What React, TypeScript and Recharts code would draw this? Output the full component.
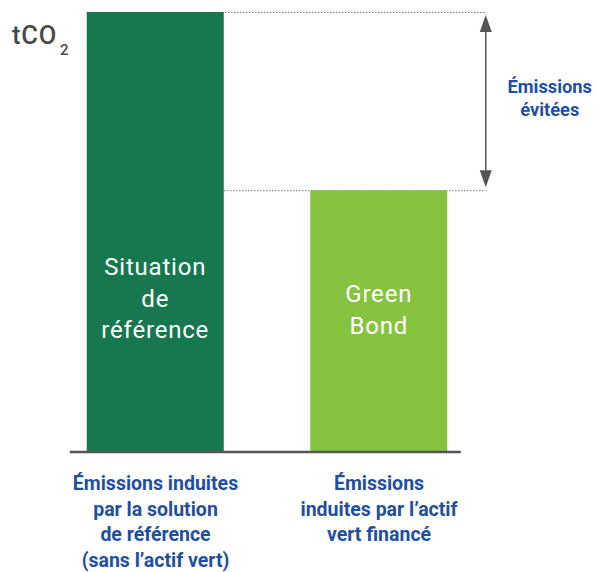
import React from "react";
import { Bar, BarChart, Cell, LabelList, ReferenceArea, ReferenceLine, XAxis, YAxis } from "recharts";

const categories = ["reference", "greenBond"];
const emissions = [100, 59.5];
const barLabels = [["Situation", "de", "référence"], ["Green", "Bond"]];
const categoryLabels = [
  ["Émissions induites", "par la solution", "de référence", "(sans l’actif vert)"],
  ["Émissions", "induites par l’actif", "vert financé"],
];
const avoidedLabel = ["Émissions", "évitées"];
const unitLabel = "tCO";
const unitSub = "2";

const data = categories.map((c, i) => ({ cat: c, value: emissions[i] }));

const DARK = "#17784F";
const LIGHT = "#86C440";
const BLUE = "#1F4F9E";
const GREY = "#555555";
const FONT = "Roboto, sans-serif";
const BAR_W = 137;

const CategoryTick = (props: any) => {
  const { x, y, payload } = props;
  const lines = categoryLabels[payload.index] || [];
  return (
    <g>
      {lines.map((t, i) => (
        <text key={i} x={x} y={y + 30 + i * 25.5} textAnchor="middle" fill={BLUE}
          fontFamily={FONT} fontWeight={700} fontSize={19.5}>
          {t}
        </text>
      ))}
    </g>
  );
};

const BarText = (props: any) => {
  const { x, y, width, height, index } = props;
  const lines = barLabels[index] || [];
  const offsets = [153.5, 142];
  const cy = y + height - offsets[index];
  const start = cy - ((lines.length - 1) * 31.5) / 2;
  return (
    <g>
      {lines.map((t, i) => (
        <text key={i} x={x + width / 2} y={start + i * 31.5 + 8} textAnchor="middle" fill="#fff"
          fontFamily={FONT} fontSize={24} letterSpacing={0.8}>
          {t}
        </text>
      ))}
    </g>
  );
};

const AvoidedShape = (props: any) => {
  const { x, y, width, height } = props;
  const right = x + width - 5;
  const startX = x + width / 4 + BAR_W / 2;
  const bottom = y + height;
  return (
    <g>
      <line x1={startX - BAR_W} x2={right} y1={y + 0.5} y2={y + 0.5} stroke="#777" strokeDasharray="1.5 1.5" />
      <line x1={startX} x2={right} y1={bottom + 0.5} y2={bottom + 0.5} stroke="#777" strokeDasharray="1.5 1.5" />
      <line x1={right} x2={right} y1={y + 10} y2={bottom - 10} stroke={GREY} strokeWidth={1.5} />
      <polygon points={`${right},${y + 3} ${right - 6},${y + 20} ${right + 6},${y + 20}`} fill={GREY} />
      <polygon points={`${right},${bottom - 3} ${right - 6},${bottom - 20} ${right + 6},${bottom - 20}`} fill={GREY} />
      {avoidedLabel.map((t, i) => (
        <text key={i} x={right + 64} y={y + 81 + i * 23} textAnchor="middle" fill={BLUE}
          fontFamily={FONT} fontWeight={700} fontSize={18.3}>
          {t}
        </text>
      ))}
    </g>
  );
};

const Baseline = (props: any) => {
  const { x1, x2, y1 } = props;
  return <line x1={x1 + 26} x2={x2 - 30} y1={y1} y2={y1} stroke={GREY} strokeWidth={2.5} />;
};

export default function App() {
  return (
    <div style={{ position: "absolute", left: 0, top: 0, width: 597, height: 572, background: "#fff" }}>
      <BarChart width={597} height={572} data={data} margin={{ top: 12, right: 106.25, left: 43.75, bottom: 0 }}>
        <YAxis hide domain={[0, 100]} />
        <XAxis dataKey="cat" height={120} axisLine={false} tickLine={false} interval={0} tick={<CategoryTick />} />
        <Bar dataKey="value" barSize={BAR_W} isAnimationActive={false}>
          {data.map((_, i) => (
            <Cell key={i} fill={i === 0 ? DARK : LIGHT} />
          ))}
          <LabelList dataKey="value" content={<BarText />} />
        </Bar>
        <ReferenceArea y1={emissions[1]} y2={emissions[0]} ifOverflow="visible" shape={<AvoidedShape />} />
        <ReferenceLine y={0} ifOverflow="visible" shape={<Baseline />} />
      </BarChart>
      <svg width={90} height={70} style={{ position: "absolute", left: 0, top: 0 }}>
        <text x={12} y={44} fontFamily={FONT} fontWeight={500} fontSize={25.5} letterSpacing={0.8} fill="#4a4a4a">
          {unitLabel}
        </text>
        <text x={60} y={55} fontFamily={FONT} fontWeight={500} fontSize={15} fill="#4a4a4a">
          {unitSub}
        </text>
      </svg>
    </div>
  );
}
